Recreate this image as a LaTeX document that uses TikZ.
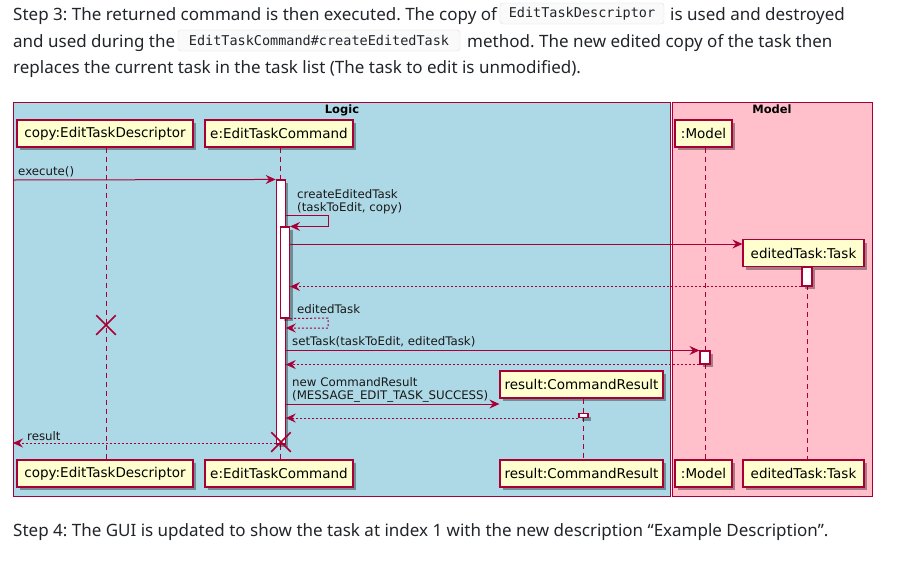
\documentclass[tikz,border=0pt]{standalone}
\usepackage{fontspec}
\setmainfont{Noto Sans}
\newfontfamily\umlfont{DejaVu Sans}
\newfontfamily\codefont{DejaVu Sans Mono}
\usetikzlibrary{arrows.meta,shadows,calc,shapes.misc}
\definecolor{logicblue}{HTML}{ADD8E6}
\definecolor{modelpink}{HTML}{FFC0CB}
\definecolor{umlred}{HTML}{A80036}
\definecolor{partfill}{HTML}{FEFECE}
\definecolor{bodytext}{HTML}{212529}
\frenchspacing
\tikzset{
  shad/.style={drop shadow={shadow xshift=3pt,shadow yshift=-3pt,opacity=0.35,fill=black}},
  part/.style={draw=umlred, fill=partfill, line width=1.2pt, minimum height=27pt, inner sep=0pt,
    font=\umlfont\fontsize{13.5}{15}\selectfont, shad},
  act/.style={draw=umlred, fill=white, line width=1.1pt, inner sep=0pt, minimum width=9pt, shad},
  life/.style={umlred, line width=1pt, dash pattern=on 5pt off 4pt},
  msg/.style={umlred, line width=1pt, -{Stealth[length=10pt,width=9pt,inset=3.5pt]}},
  ret/.style={msg, dash pattern=on 2pt off 2pt},
  lbl/.style={font=\umlfont\fontsize{11.8}{14}\selectfont, inner sep=0pt, anchor=base west, text=black!90},
  body/.style={font=\fontsize{17}{20}\selectfont, text=bodytext, inner sep=0pt, anchor=base west},
  code/.style={font=\codefont\fontsize{13.5}{16}\selectfont, text=bodytext, draw=gray!25, fill=gray!4,
    rounded corners=3pt, inner sep=0pt, minimum height=21pt},
  destroyx/.style={cross out, draw=umlred, line width=1.5pt, minimum size=18pt, inner sep=0pt},
  pkg/.style={draw=umlred, line width=1pt},
  pkgtitle/.style={font=\umlfont\bfseries\fontsize{11.5}{14}\selectfont, inner sep=0pt, anchor=base}
}
\begin{document}
\begin{tikzpicture}[x=1pt,y=-1pt]
\useasboundingbox[fill=white] (0,0) rectangle (899,587);

% body text
\node[body] (t1a) at (13,20) {Step 3: The returned command is then executed. The copy of};
\node[code, minimum width=164pt] (c1) at (582,13.5) {EditTaskDescriptor};
\node[body] (t1b) at (670,20) {is used and destroyed};
\node[body] (t2a) at (13,47) {and used during the};
\node[code, minimum width=282pt] (c2) at (319,40.5) {EditTaskCommand\#createEditedTask};
\node[body] (t2b) at (467,47) {method. The new edited copy of the task then};
\node[body] (t3) at (13,73) {replaces the current task in the task list (The task to edit is unmodified).};
\node[body] (t4) at (13,536) {Step 4: The GUI is updated to show the task at index 1 with the new description “Example Description”.};

% packages
\draw[pkg, fill=logicblue] (13,102) rectangle (670,496);
\draw[pkg, fill=modelpink] (672,102) rectangle (872,496);
\node[pkgtitle] (logicT) at (342,113) {Logic};
\node[pkgtitle] (modelTT) at (772,113) {Model};

% participants
\node[part, minimum width=176pt] (copyT) at (105,133.5) {copy:EditTaskDescriptor};
\node[part, minimum width=148pt] (eT) at (279,133.5) {e:EditTaskCommand};
\node[part, minimum width=57pt] (modelT) at (703.5,133.5) {:Model};
\node[part, minimum width=176pt] (copyB) at (105,473.5) {copy:EditTaskDescriptor};
\node[part, minimum width=148pt] (eB) at (279,473.5) {e:EditTaskCommand};
\node[part, minimum width=163pt] (resB) at (581.5,473.5) {result:CommandResult};
\node[part, minimum width=57pt] (modelB) at (703.5,473.5) {:Model};
\node[part, minimum width=121pt] (edB) at (803.5,473.5) {editedTask:Task};
\node[part, minimum width=121pt] (edT) at (803.5,253) {editedTask:Task};
\node[part, minimum width=163pt] (resT) at (581.5,384.5) {result:CommandResult};

% lifeline x positions
\coordinate (xE) at (280.7,0);
\coordinate (xModel) at (705,0);
\coordinate (xEd) at (807,0);
\coordinate (xRes) at (583.5,0);
\coordinate (xCopy) at (106,0);

% lifelines
\draw[life] (copyT.south -| xCopy) -- (copyB.north -| xCopy);
\draw[life] (eT.south -| xE) -- (eB.north -| xE);
\draw[life] (modelT.south -| xModel) -- (modelB.north -| xModel);
\draw[life] (edT.south -| xEd) -- (edB.north -| xEd);
\draw[life] (resT.south -| xRes) -- (resB.north -| xRes);

% activation bars
\node[act, minimum height=264pt] (actE1) at (280.7,312) {};
\node[act, minimum height=91pt] (actE2) at (285,272.5) {};
\node[act, minimum width=10pt, minimum height=19pt] (actEd) at (807,276.5) {};
\node[act, minimum width=10pt, minimum height=13pt] (actModel) at (705,357.5) {};
\node[act, minimum width=9pt, minimum height=4pt] (actRes) at (583.5,415.5) {};

% messages
\coordinate (exStart) at (13,180);
\draw[msg] (exStart) -- (actE1.north west);
\node[lbl] (lExec) at (18,175) {execute()};

\coordinate (c1a) at (328,215);
\draw[msg] (actE1.east |- c1a) -- (c1a) -- (c1a |- actE2.north) -- (actE2.north east);
\node[lbl] (lCreate1) at (297,198) {createEditedTask};
\node[lbl] (lCreate2) at (297,211) {(taskToEdit, copy)};

\coordinate (m2) at (0,244);
\draw[msg] (actE2.east |- m2) -- (edT.west |- m2);

\draw[ret] (actEd.south west) -- (actE2.east |- actEd.south);

\coordinate (c2a) at (328,318);
\coordinate (c2b) at (328,328);
\draw[ret] (actE2.south east) -- (c2a) -- (c2b) -- (actE1.east |- c2b);
\node[lbl] (lEdited) at (297,313) {editedTask};

\node[destroyx] (xCopyD) at (106,325) {};

\draw[msg] (actE1.east |- actModel.north) -- (actModel.north west);
\node[lbl] (lSet) at (292,345) {setTask(taskToEdit, editedTask)};
\draw[ret] (actModel.south west) -- (actE1.east |- actModel.south);

\coordinate (m5) at (0,404);
\draw[msg] (actE1.east |- m5) -- (resT.west |- m5);
\node[lbl] (lNew1) at (292,386) {new CommandResult};
\node[lbl] (lNew2) at (292,399) {(MESSAGE\_EDIT\_TASK\_SUCCESS)};
\draw[ret] (actRes.south west) -- (actE1.east |- actRes.south);

\coordinate (resEnd) at (13,443);
\draw[ret] (actE1.west |- resEnd) -- (resEnd);
\node[lbl] (lRes) at (27,440) {result};
\node[destroyx] (xED) at (281,442) {};
\end{tikzpicture}
\end{document}
